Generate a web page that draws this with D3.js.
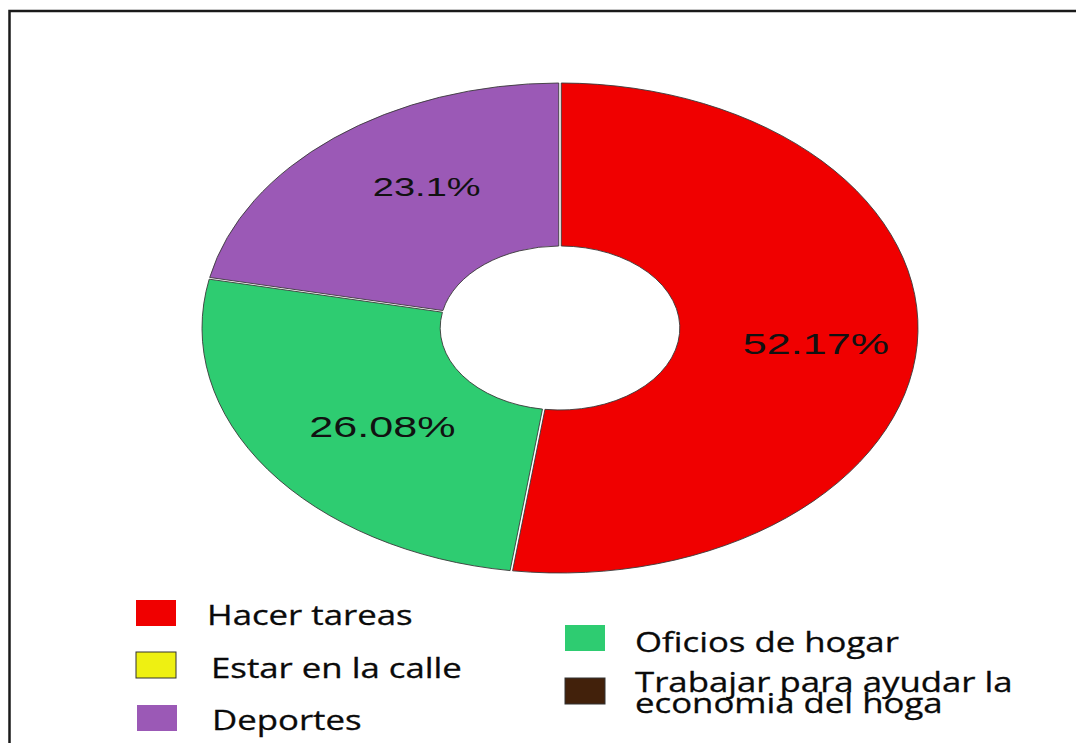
<!DOCTYPE html>
<html>
<head>
<meta charset="utf-8">
<script src="https://cdnjs.cloudflare.com/ajax/libs/d3/7.8.5/d3.min.js"></script>
<style>
  body { margin: 0; background: #fff; }
  svg { display: block; }
</style>
</head>
<body>
<div id="chart"></div>
<script>
// chart data
var categories = ['Hacer tareas', 'Oficios de hogar', 'Deportes', 'Estar en la calle', 'Trabajar para ayudar la economia del hoga'];
var values = [52.17, 26.08, 21.75, 0, 0];
var value_labels = ['52.17%', '26.08%', '23.1%', '0%', '0%'];
var colors = ['#f00000', '#2ecc71', '#9b59b6', '#eef012', '#42210b'];
var legend_order = ['Hacer tareas', 'Estar en la calle', 'Deportes', 'Oficios de hogar', 'Trabajar para ayudar la economia del hoga'];

var chart_width = 1076;
var chart_height = 743;
var outer_radius = 245;
var inner_radius = 82;
var stretch = 358 / 245;   // the picture is wider than tall
var cx = 560;
var cy = 328;

var dataset = categories.map(function(c, i) {
  return { name: c, value: values[i], label: value_labels[i], color: colors[i] };
});

var svg = d3.select('#chart')
  .append('svg')
  .attr('width', chart_width)
  .attr('height', chart_height);

// frame (only top and left edges are inside the picture)
svg.append('rect')
  .attr('x', 9.5)
  .attr('y', 11)
  .attr('width', chart_width + 20)
  .attr('height', chart_height + 20)
  .attr('fill', 'none')
  .attr('stroke', '#1a1a1a')
  .attr('stroke-width', 2.5);

// donut
var pie = d3.pie()
  .sort(null)
  .value((d) => d.value);

var arc = d3.arc()
  .innerRadius(inner_radius)
  .outerRadius(outer_radius)
  .padAngle(0.007)
  .padRadius(outer_radius);

var slices = pie(dataset.filter((d) => d.value > 0));

var donut = svg.append('g')
  .attr('transform', 'translate(' + cx + ',' + cy + ') scale(' + stretch + ',1)');

donut.selectAll('path')
  .data(slices)
  .enter()
  .append('path')
  .attr('d', arc)
  .attr('fill', (d) => d.data.color)
  .attr('stroke', '#3a3a3a')
  .attr('stroke-width', 0.9)
  .attr('vector-effect', 'non-scaling-stroke');

donut.selectAll('text')
  .data(slices)
  .enter()
  .append('text')
  .attr('transform', function(d) {
    var c = arc.centroid(d);
    var dy = d.data.name === 'Deportes' ? -14 : 5;
    return 'translate(' + (c[0] + 12) + ',' + (c[1] + dy) + ')';
  })
  .attr('text-anchor', 'middle')
  .attr('dominant-baseline', 'central')
  .style('font-family', '"Liberation Sans", Arial, sans-serif')
  .style('font-size', (d) => d.data.name === 'Deportes' ? '26px' : '29.5px')
  .attr('fill', '#111')
  .text((d) => d.data.label);

// legend
var legend_slots = [
  { x: 136, y: 600, tx: 207, ty: 625 },
  { x: 136, y: 652, tx: 211, ty: 678 },
  { x: 137, y: 705, tx: 212, ty: 730 },
  { x: 565, y: 625, tx: 635, ty: 652 },
  { x: 565, y: 678, tx: 635, ty: 692 }
];

var legend = svg.selectAll('.legend')
  .data(legend_order.map((n) => dataset.find((d) => d.name === n)))
  .enter()
  .append('g')
  .attr('class', 'legend');

legend.append('rect')
  .attr('x', (d, i) => legend_slots[i].x)
  .attr('y', (d, i) => legend_slots[i].y)
  .attr('width', 40)
  .attr('height', 26)
  .attr('fill', (d) => d.color)
  .attr('stroke', (d) => d.value > 0 ? 'none' : '#333')
  .attr('stroke-width', 1);

var legend_text = legend.append('text')
  .attr('transform', (d, i) => 'translate(' + legend_slots[i].tx + ',' + legend_slots[i].ty + ') scale(1.26,1)')
  .style('font-family', '"Open Sans", sans-serif')
  .style('font-size', '27.6px')
  .attr('fill', '#0a0a0a')
  .attr('stroke', '#0a0a0a')
  .attr('stroke-width', 0.3);

legend_text.each(function(d) {
  var t = d3.select(this);
  if (d.name.length > 30) {
    t.append('tspan').attr('x', 0).attr('dy', 0).text('Trabajar para ayudar la');
    t.append('tspan').attr('x', 0).attr('dy', 21).text('economia del hoga');
  } else {
    t.text(d.name);
  }
});
</script>
</body>
</html>
